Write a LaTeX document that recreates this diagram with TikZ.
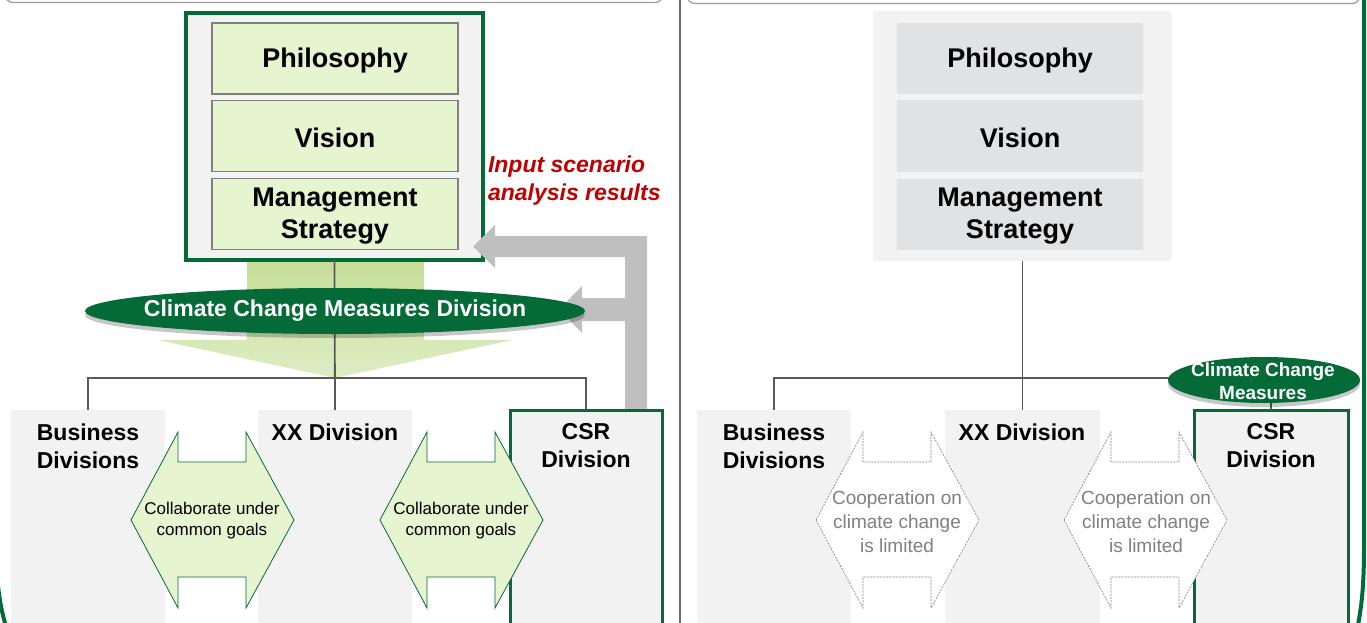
\documentclass[tikz,border=0pt]{standalone}
\usepackage{fontspec}
\setmainfont{Liberation Sans}
\usetikzlibrary{shapes.geometric,shadows,calc}
\definecolor{dkgreen}{RGB}{4,106,56}
\definecolor{lightgreen}{RGB}{230,244,208}
\definecolor{arrowgreen}{RGB}{197,222,151}
\definecolor{arrowgreenlt}{RGB}{222,237,196}
\definecolor{panelgray}{RGB}{242,242,242}
\definecolor{boxgrayR}{RGB}{225,226,228}
\definecolor{boxedge}{RGB}{128,128,128}
\definecolor{linegray}{RGB}{89,89,89}
\definecolor{blockgray}{RGB}{191,191,191}
\definecolor{darkred}{RGB}{192,0,0}
\definecolor{softgray}{RGB}{128,128,128}
\begin{document}
\begin{tikzpicture}[x=1pt,y=-1pt,
  every node/.style={inner sep=0pt, outer sep=0pt},
  hdr/.style={draw=boxedge!80, line width=1.2pt, rounded corners=8pt},
  panel/.style={fill=panelgray, draw=none, anchor=north west},
  csrbox/.style={fill=panelgray, draw=dkgreen, line width=3pt, anchor=north west},
  gbox/.style={fill=lightgreen, draw=boxedge, line width=1.4pt, minimum width=246, minimum height=71},
  rbox/.style={fill=boxgrayR, draw=none, minimum width=246, minimum height=71},
  htxt/.style={font=\fontsize{27}{32}\selectfont\bfseries, align=center},
  conn/.style={draw=linegray, line width=1.8pt},
  btxt/.style={font=\fontsize{23}{28}\selectfont\bfseries, align=center},
  greenell/.style={ellipse, fill=dkgreen, inner sep=0pt,
    drop shadow={shadow xshift=0pt, shadow yshift=-4pt, fill=black, opacity=0.22}},
  collab/.style={fill=lightgreen, draw=dkgreen, line width=0.8pt},
  limited/.style={fill=white, draw=softgray, line width=0.6pt, dash pattern=on 2pt off 1.2pt},
  ctxt/.style={font=\fontsize{17}{21}\selectfont, align=center},
  ltxt/.style={font=\fontsize{19}{24}\selectfont, align=center, text=softgray}
]
\useasboundingbox (0,0) rectangle (1367,623);
\clip (0,0) rectangle (1367,623);

% ---------- frame elements ----------
\draw[hdr] (5,-40) rectangle (663,2.5);
\draw[hdr] (687,-40) rectangle (1360,3.5);
\draw[dkgreen, line width=4pt] (1364,-10) -- (1364,545) .. controls (1364,585) and (1362,605) .. (1357,630);
\draw[dkgreen, line width=4pt] (-3,575) .. controls (-1,600) and (2,613) .. (7,630);
\draw[draw=linegray!90, line width=1.8pt] (680,-5) -- (680,630);

% =============== LEFT PANEL ===============
\node[panel, minimum width=154, minimum height=240] (bizL) at (11,410) {};
\node[panel, minimum width=154, minimum height=240] (xxL) at (258,410) {};

% light green flow arrow
\shade[top color=arrowgreen, bottom color=arrowgreenlt]
  (247,258) -- (424,258) -- (424,340) -- (512,340) -- (335,378) -- (158,340) -- (247,340) -- cycle;

% top container
\node[panel, draw=dkgreen, line width=4pt, minimum width=297, minimum height=247] (bigL) at (186,13) {};
\node[gbox] (philL) at (335,58.5) {};
\node[gbox] (visL) at (335,136) {};
\node[gbox] (mgmtL) at (335,214) {};
\node[htxt] (philLt) at (335,61) {Philosophy};
\node[htxt] (visLt) at (335,138) {Vision};
\node[htxt] (mgmtLt) at (335,216.5) {Management\\Strategy};

% gray block arrows (input scenario analysis results)
\fill[blockgray] (625,410) -- (625,321) -- (582,321) -- (582,333) -- (559,309.5) -- (582,286)
  -- (582,298) -- (625,298) -- (625,257) -- (495,257) -- (495,268) -- (473,246.5) -- (495,225)
  -- (495,236) -- (647,236) -- (647,410) -- cycle;
\node[font=\fontsize{23}{28}\selectfont\bfseries\itshape, text=darkred, align=left, anchor=west]
  (inputtxt) at (488,181) {Input scenario\\analysis results};

% connectors
\draw[conn] (bigL.south) -- (xxL.north);
\draw[conn] (bizL.north) -- ++(0,-32) -| ($(xxL.north)+(251,0)$);

% CSR box
\node[csrbox, minimum width=152, minimum height=240] (csrL) at (510,410) {};

% climate change measures division ellipse
\node[greenell, minimum width=500, minimum height=46] (ccmd) at (335,311) {};
\node[font=\fontsize{23}{26}\selectfont\bfseries, text=white] (ccmdt) at (335,311) {Climate Change Measures Division};

% division labels
\node[btxt] (bizLt) at (88,446) {Business\\Divisions};
\node[btxt] (xxLt) at (335,432) {XX Division};
\node[btxt] (csrLt) at (586,446) {CSR\\Division};

% collaboration double arrows
\draw[collab] (131,520) -- ++(47,-88) -- ++(0,30) -- ++(68,0) -- ++(0,-30) -- ++(48,88)
  -- ++(-48,88) -- ++(0,-31) -- ++(-68,0) -- ++(0,31) -- cycle;
\node[ctxt] (colA) at (212,521) {Collaborate under\\common goals};
\draw[collab] (380,520) -- ++(47,-88) -- ++(0,30) -- ++(68,0) -- ++(0,-30) -- ++(48,88)
  -- ++(-48,88) -- ++(0,-31) -- ++(-68,0) -- ++(0,31) -- cycle;
\node[ctxt] (colB) at (461,521) {Collaborate under\\common goals};

% =============== RIGHT PANEL ===============
\node[panel, minimum width=154, minimum height=240] (bizR) at (697,410) {};
\node[panel, minimum width=155, minimum height=240] (xxR) at (945,410) {};
\node[panel, rounded corners=3pt, minimum width=299, minimum height=250] (bigR) at (873,11) {};
\node[rbox] (philR) at (1020,58.5) {};
\node[rbox] (visR) at (1020,136) {};
\node[rbox] (mgmtR) at (1020,214) {};
\node[htxt] (philRt) at (1020,61) {Philosophy};
\node[htxt] (visRt) at (1020,138) {Vision};
\node[htxt] (mgmtRt) at (1020,216.5) {Management\\Strategy};

\node[csrbox, minimum width=154, minimum height=240] (csrR) at (1194,410) {};

\draw[conn] (bigR.south) -- (xxR.north);
\draw[conn] (bizR.north) -- ++(0,-32) -- (1200,378);
\draw[conn] (1271,395) -- (csrR.north);
\node[greenell, minimum width=192, minimum height=46] (ccmR) at (1264,380) {};
\node[font=\fontsize{19}{23}\selectfont\bfseries, text=white, align=center] (ccmRt) at (1263,381)
  {Climate Change\\Measures};

\node[btxt] (bizRt) at (774,446) {Business\\Divisions};
\node[btxt] (xxRt) at (1022,432) {XX Division};
\node[btxt] (csrRt) at (1271,446) {CSR\\Division};

\draw[limited] (816,520) -- ++(47,-88) -- ++(0,30) -- ++(68,0) -- ++(0,-30) -- ++(48,88)
  -- ++(-48,88) -- ++(0,-31) -- ++(-68,0) -- ++(0,31) -- cycle;
\node[ltxt] (coopA) at (897,522) {Cooperation on\\climate change\\is limited};
\draw[limited] (1064,520) -- ++(47,-88) -- ++(0,30) -- ++(68,0) -- ++(0,-30) -- ++(48,88)
  -- ++(-48,88) -- ++(0,-31) -- ++(-68,0) -- ++(0,31) -- cycle;
\node[ltxt] (coopB) at (1146,522) {Cooperation on\\climate change\\is limited};
\end{tikzpicture}
\end{document}
